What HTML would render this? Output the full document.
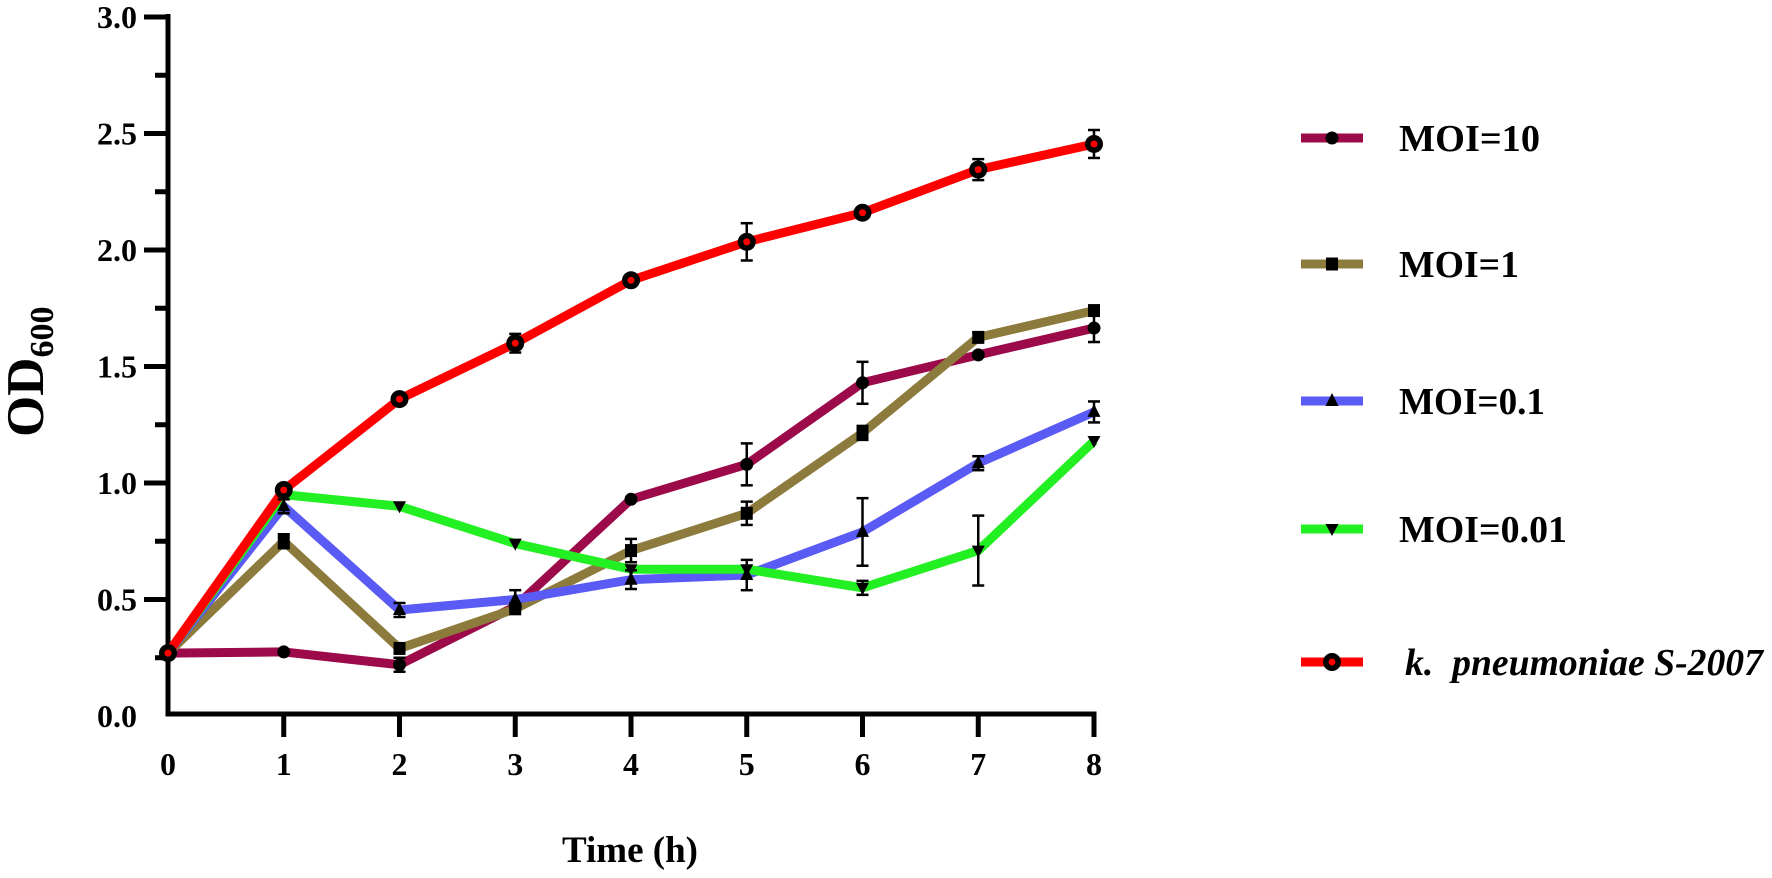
<!DOCTYPE html>
<html><head><meta charset="utf-8"><style>
html,body{margin:0;padding:0;background:#fff;}
svg{display:block;}
text{font-family:"Liberation Serif","Times New Roman",serif;font-weight:bold;fill:#000;}
</style></head><body>
<svg id="s" width="1772" height="878" viewBox="0 0 1772 878" xmlns="http://www.w3.org/2000/svg">
<g id="axes" stroke="#000" stroke-width="5" fill="none">
<line x1="168" y1="14" x2="168" y2="716.5"/>
<line x1="165.5" y1="714" x2="1096.5" y2="714"/>
</g>
<g id="ticks"></g>
<g id="series"></g>
<text x="630" y="862" font-size="37" text-anchor="middle">Time (h)</text>
<text transform="translate(43,437) rotate(-90)" font-size="53">OD<tspan font-size="34" dy="10">600</tspan></text>
<g id="legend"></g>
</svg>
<script>
var NS="http://www.w3.org/2000/svg";
function X(t){return 168+115.75*t;}
function Y(v){return 716-233*v;}
function el(n,a,p,txt){var e=document.createElementNS(NS,n);for(var k in a)e.setAttribute(k,a[k]);if(txt!==undefined)e.textContent=txt;p.appendChild(e);return e;}
var tk=document.getElementById('ticks');
for(var i=0;i<=12;i++){var v=i*0.25,y=Y(v);if(i==0)continue;
 var major=(i%2==0);
 el('line',{x1:major?144:155,y1:y,x2:168,y2:y,stroke:'#000','stroke-width':5},tk);
}
for(var i=0;i<=6;i++){var v=i*0.5;el('text',{x:137,y:Y(v)+11,'font-size':32,'text-anchor':'end'},tk,v.toFixed(1));}
for(var t=0;t<=8;t++){var x=X(t);if(t>0)el('line',{x1:x,y1:714,x2:x,y2:737,stroke:'#000','stroke-width':5},tk);
 el('text',{x:x,y:775,'font-size':32,'text-anchor':'middle'},tk,String(t));}
var S=[
 {c:'#9c0a4a',m:'circle',d:[0.27,0.275,0.22,0.47,0.93,1.08,1.43,1.55,1.665],e:{2:0.03,5:0.09,6:0.09,8:0.06}},
 {c:'#8c7b3c',m:'square',d:[0.27,0.75,0.29,0.46,0.71,0.87,1.215,1.625,1.74],e:{1:0.03,4:0.05,5:0.05,6:0.03,7:0.02}},
 {c:'#5a5af5',m:'tri',d:[0.27,0.90,0.455,0.50,0.585,0.605,0.79,1.085,1.305],e:{1:0.03,2:0.03,3:0.04,4:0.04,5:0.065,6:0.145,7:0.03,8:0.045}},
 {c:'#22f022',m:'tridown',d:[0.27,0.95,0.90,0.74,0.63,0.63,0.55,0.71,1.18],e:{6:0.03,7:0.15}},
 {c:'#ff0000',m:'ring',d:[0.27,0.97,1.36,1.60,1.87,2.035,2.16,2.345,2.455],e:{3:0.04,5:0.08,7:0.045,8:0.06}}
];
var sg=document.getElementById('series');
function marker(m,x,y,p){
 if(m=='circle')el('circle',{cx:x,cy:y,r:6.5,fill:'#000'},p);
 else if(m=='square')el('rect',{x:x-6,y:y-6.5,width:12,height:13,fill:'#000'},p);
 else if(m=='tri')el('polygon',{points:(x)+','+(y-8)+' '+(x-6.5)+','+(y+5)+' '+(x+6.5)+','+(y+5),fill:'#000'},p);
 else if(m=='tridown')el('polygon',{points:(x)+','+(y+7)+' '+(x-6.5)+','+(y-5)+' '+(x+6.5)+','+(y-5),fill:'#000'},p);
 else if(m=='ring'){el('circle',{cx:x,cy:y,r:9,fill:'#000'},p);el('circle',{cx:x,cy:y,r:3.5,fill:'#ff0000'},p);}
}
S.forEach(function(s){
 var pts=s.d.map(function(v,t){return X(t)+','+Y(v);}).join(' ');
 el('polyline',{points:pts,fill:'none',stroke:s.c,'stroke-width':9,'stroke-linejoin':'round'},sg);
});
S.forEach(function(s){
 for(var t in s.e){var x=X(+t),v=s.d[t],e=s.e[t];
  el('line',{x1:x,y1:Y(v+e),x2:x,y2:Y(v-e),stroke:'#000','stroke-width':2.5},sg);
  el('line',{x1:x-6,y1:Y(v+e),x2:x+6,y2:Y(v+e),stroke:'#000','stroke-width':2.5},sg);
  el('line',{x1:x-6,y1:Y(v-e),x2:x+6,y2:Y(v-e),stroke:'#000','stroke-width':2.5},sg);
 }
 s.d.forEach(function(v,t){marker(s.m,X(t),Y(v),sg);});
});
var lg=document.getElementById('legend');
var L=[['MOI=10',138,141,0],['MOI=1',264,120,1],['MOI=0.1',401,146,2],['MOI=0.01',529,168,3],['k.  pneumoniae S-2007',662,358,4]];
L.forEach(function(l){var s=S[l[3]];
 el('line',{x1:1301,y1:l[1],x2:1363,y2:l[1],stroke:s.c,'stroke-width':9},lg);
 marker(s.m,1332,l[1],lg);
 var a={x:l[3]==4?1405:1399,y:l[1]+13,'font-size':38,'font-family':'Liberation Serif, serif',textLength:l[2],lengthAdjust:'spacingAndGlyphs'};
 if(l[3]==4){a['font-style']='italic';}
 var t=el('text',a,lg,l[0]);
 if(l[3]==4)t.setAttribute('style','white-space:pre');
});
</script>
</body></html>
